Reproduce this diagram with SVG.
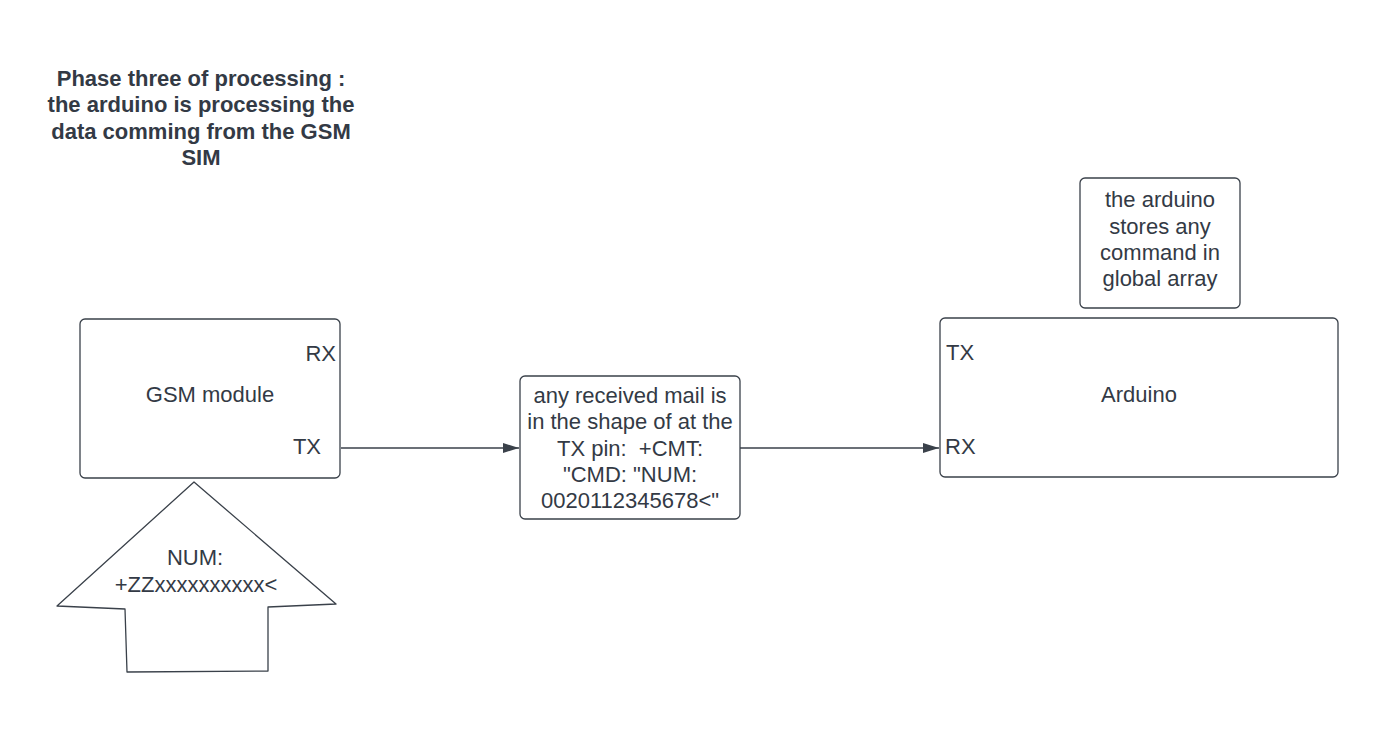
<svg xmlns="http://www.w3.org/2000/svg" width="1378" height="756" viewBox="0 0 1378 756">
<defs>
<style>
.box{fill:#ffffff;stroke:#3a414a;stroke-width:1.3}
.t{font-family:"Liberation Sans",Arial,sans-serif;font-size:22px;fill:#333a45;white-space:pre}
.c{text-anchor:middle}
.b{font-weight:bold}
.ln{stroke:#3a414a;stroke-width:1.3;fill:none}
</style>
<marker id="ah" viewBox="0 0 16 12" refX="16" refY="6" markerWidth="16" markerHeight="12" markerUnits="userSpaceOnUse" orient="auto">
<path d="M0,1 L16,6 L0,11 Z" fill="#3a414a"/>
</marker>
</defs>
<rect width="1378" height="756" fill="#ffffff"/>
<g id="title">
<text class="t c b" x="201" y="86">Phase three of processing :</text>
<text class="t c b" x="201" y="112">the arduino is processing the</text>
<text class="t c b" x="201" y="138.5">data comming from the GSM</text>
<text class="t c b" x="201" y="165">SIM</text>
</g>
<g id="connectors">
<line class="ln" x1="341" y1="448" x2="519" y2="448" marker-end="url(#ah)"/>
<line class="ln" x1="740" y1="448" x2="939" y2="448" marker-end="url(#ah)"/>
</g>
<g id="gsm">
<rect class="box" x="80" y="319" width="260" height="159" rx="5"/>
<text class="t" x="336" y="361" text-anchor="end">RX</text>
<text class="t c" x="210" y="402">GSM module</text>
<text class="t" x="321" y="454" text-anchor="end">TX</text>
</g>
<g id="num-arrow">
<path class="box" stroke-linejoin="round" d="M194,482 L336,604 L268,607 L268,671 L127,672 L125,609 L57,606 Z"/>
<text class="t c" x="195" y="565">NUM:</text>
<text class="t c" x="196" y="592">+ZZxxxxxxxxxx&lt;</text>
</g>
<g id="message">
<rect class="box" x="520" y="376" width="220" height="143" rx="5"/>
<text class="t c" x="630" y="403">any received mail is</text>
<text class="t c" x="630" y="429">in the shape of at the</text>
<text class="t c" x="630" y="455.5" xml:space="preserve">TX pin:  +CMT:</text>
<text class="t c" x="630" y="481.5">"CMD: "NUM:</text>
<text class="t c" x="630" y="508">0020112345678&lt;"</text>
</g>
<g id="store-note">
<rect class="box" x="1080" y="178" width="160" height="130" rx="5"/>
<text class="t c" x="1160" y="207">the arduino</text>
<text class="t c" x="1160" y="233.5">stores any</text>
<text class="t c" x="1160" y="260">command in</text>
<text class="t c" x="1160" y="286">global array</text>
</g>
<g id="arduino">
<rect class="box" x="940" y="318" width="398" height="159" rx="5"/>
<text class="t" x="946" y="360">TX</text>
<text class="t c" x="1139" y="402">Arduino</text>
<text class="t" x="945" y="454">RX</text>
</g>
</svg>
